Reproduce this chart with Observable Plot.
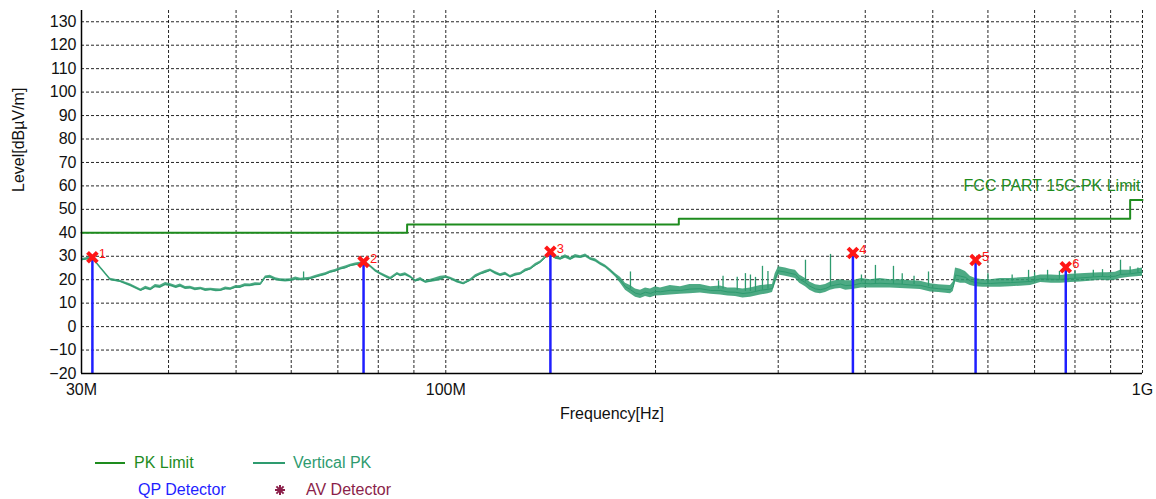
<!DOCTYPE html>
<html>
<head>
<meta charset="utf-8">
<script src="https://cdn.jsdelivr.net/npm/d3@7"></script>
<script src="https://cdn.jsdelivr.net/npm/@observablehq/plot@0.6"></script>
<style>
  html, body { margin: 0; padding: 0; background: #fff; }
  #wrap { position: relative; width: 1156px; height: 499px; font-family: "Liberation Sans", Arial, sans-serif; }
  #legend { position: relative; width: 1156px; height: 59px; font-size: 16px; }
  #legend .item { position: absolute; white-space: nowrap; line-height: 16px; }
  #legend .sw { position: absolute; height: 2px; }
</style>
</head>
<body>
<div id="wrap">
  <div id="chart"></div>
  <div id="legend"></div>
</div>
<script>
// ---- data (frequency in MHz, level in dBµV/m) ----
const traceFreq = [30.0, 31.1, 31.9, 33.0, 34.1, 35.3, 36.5, 37.1, 37.7, 38.3, 38.9, 39.6, 40.3, 41.0, 41.6, 42.3, 43.0, 43.7, 44.5, 45.2, 46.0, 46.8, 47.5, 48.3, 49.1, 49.9, 50.7, 51.5, 52.4, 53.3, 54.2, 55.1, 56.0, 57.0, 57.9, 58.9, 59.9, 60.9, 61.9, 63.9, 65.0, 66.1, 67.2, 68.3, 69.4, 70.6, 71.8, 73.0, 74.2, 75.4, 76.2, 77.1, 78.0, 79.3, 80.6, 82.0, 83.3, 85.2, 86.1, 87.5, 89.0, 90.5, 92.0, 93.5, 96.0, 98.3, 99.9, 101.6, 103.8, 106.0, 108.5, 110.3, 112.2, 114.0, 115.9, 117.8, 119.8, 121.8, 123.8, 125.9, 128.0, 130.1, 132.3, 134.5, 136.7, 139.9, 141.3, 143.7, 146.1, 148.5, 151.0, 153.5, 156.1, 158.7, 161.3, 164.0, 166.7, 169.5, 172.3, 175.2, 178.1, 181.1, 184.1, 187.2, 190.3, 193.5, 196.7, 200.0, 203.3, 210.0, 217.2, 224.0, 232.0, 240.0, 247.9, 254.0, 260.5, 267.0, 273.7, 283.0, 290.0, 294.4, 297.0, 300.3, 307.3, 312.0, 317.6, 322.0, 328.3, 333.0, 339.4, 345.0, 350.8, 356.6, 362.5, 368.6, 375.0, 383.5, 395.0, 406.9, 420.0, 434.8, 449.3, 465.0, 480.1, 496.3, 510.0, 530.2, 535.0, 539.1, 548.0, 557.1, 566.0, 575.9, 590.0, 605.2, 625.0, 646.4, 668.0, 690.8, 714.1, 740.0, 762.9, 790.0, 814.9, 840.0, 870.4, 890.0, 914.6, 929.9, 960.0, 1000];
const traceLow = [28.0, 28.8, 24.8, 19.6, 18.8, 17.0, 15.0, 15.8, 15.3, 16.6, 16.3, 17.4, 17.0, 16.2, 16.8, 15.8, 16.0, 15.3, 15.7, 15.0, 15.3, 14.9, 15.0, 15.6, 15.5, 16.2, 16.3, 17.0, 17.0, 17.4, 17.5, 20.5, 20.6, 19.6, 19.2, 19.0, 19.2, 19.8, 19.5, 20.0, 20.6, 21.3, 21.8, 22.7, 23.2, 24.1, 24.6, 25.5, 25.9, 26.3, 26.9, 26.1, 25.1, 23.2, 22.0, 20.8, 19.9, 22.0, 21.3, 21.7, 20.6, 19.0, 19.6, 18.5, 19.0, 19.5, 20.6, 20.0, 18.6, 17.8, 19.3, 20.8, 22.0, 22.6, 23.5, 22.2, 21.4, 21.9, 20.7, 21.5, 22.0, 23.3, 24.1, 25.6, 26.9, 29.7, 30.5, 28.7, 28.3, 29.2, 28.2, 29.3, 29.0, 29.6, 28.3, 27.6, 26.2, 25.0, 23.2, 21.2, 18.5, 15.5, 14.0, 12.5, 12.0, 12.8, 12.3, 13.0, 13.2, 13.5, 13.8, 14.0, 14.3, 13.8, 13.5, 13.0, 12.8, 12.2, 12.5, 13.5, 14.0, 14.5, 18.0, 22.0, 21.5, 21.0, 20.5, 18.5, 17.0, 15.5, 14.3, 14.0, 14.5, 15.5, 16.0, 16.3, 15.5, 15.8, 16.5, 16.5, 16.5, 16.5, 16.3, 16.0, 15.8, 14.8, 14.5, 14.0, 15.0, 19.0, 18.5, 18.5, 17.5, 17.0, 16.8, 16.8, 16.8, 17.0, 17.2, 17.5, 18.8, 18.5, 18.5, 18.8, 19.0, 19.3, 19.8, 19.5, 19.8, 20.5, 21.0, 21.5];
const traceHigh = [29.0, 29.8, 25.8, 20.6, 19.8, 18.2, 16.0, 17.2, 16.5, 18.0, 17.6, 18.8, 18.3, 17.5, 18.2, 17.1, 17.2, 16.6, 16.8, 16.3, 16.4, 16.1, 16.0, 16.9, 16.6, 17.4, 17.5, 18.3, 18.2, 18.7, 18.6, 21.6, 21.9, 20.8, 20.4, 20.3, 20.4, 21.1, 20.6, 21.0, 21.8, 22.4, 23.0, 23.8, 24.4, 25.2, 25.8, 26.6, 27.1, 27.4, 28.0, 27.3, 26.2, 24.4, 23.1, 22.0, 21.0, 23.1, 22.4, 23.0, 21.7, 20.0, 20.9, 19.5, 20.5, 21.5, 21.7, 21.0, 19.9, 18.8, 20.3, 22.1, 23.1, 23.9, 24.6, 23.5, 22.5, 23.2, 21.8, 22.8, 23.1, 24.6, 25.2, 26.9, 28.0, 30.8, 31.6, 30.0, 29.5, 30.6, 29.5, 30.7, 30.2, 31.0, 29.5, 28.9, 27.4, 26.3, 24.6, 22.6, 21.0, 18.5, 17.5, 16.0, 15.5, 16.5, 16.0, 17.0, 16.5, 17.5, 17.0, 18.0, 18.0, 17.0, 17.3, 16.5, 16.5, 16.0, 16.5, 17.5, 17.8, 18.0, 22.5, 25.5, 25.0, 24.5, 24.0, 22.0, 20.5, 19.0, 17.8, 17.5, 18.0, 19.0, 19.5, 20.0, 19.5, 19.5, 20.5, 20.0, 20.5, 20.0, 20.0, 19.5, 19.3, 18.3, 17.8, 17.5, 19.0, 25.0, 24.5, 23.5, 21.5, 20.5, 20.0, 20.0, 20.5, 20.5, 20.8, 21.0, 22.0, 22.0, 21.8, 22.3, 22.5, 22.8, 23.0, 23.0, 23.2, 24.0, 24.0, 25.0];

const spikeFreq = [62.5, 184.1, 246.3, 250.0, 262.0, 269.2, 273.7, 278.3, 284.8, 290.0, 328.3, 356.6, 395.0, 413.7, 439.1, 452.0, 470.0, 493.0, 600.0, 650.0, 686.2, 700.0, 730.7, 760.0, 800.0, 850.0, 876.2, 929.9, 960.0, 985.0];
const spikeBase = [20.5, 16.0, 16.0, 16.0, 15.5, 15.0, 15.0, 15.0, 15.5, 16.0, 19.0, 17.0, 19.0, 18.0, 18.0, 18.0, 18.0, 17.0, 18.5, 19.0, 19.0, 19.5, 20.0, 20.0, 20.5, 21.0, 21.0, 22.0, 22.5, 23.0];
const spikeTop  = [23.3, 23.3, 19.5, 21.5, 21.0, 22.6, 22.0, 21.0, 25.7, 23.5, 28.3, 30.8, 22.0, 26.1, 25.7, 22.5, 21.5, 23.3, 22.5, 22.0, 24.0, 23.0, 24.0, 23.5, 23.5, 24.0, 24.3, 28.3, 25.5, 25.0];

const limitFreq  = [30, 88, 216, 960, 1000];
const limitLevel = [40, 43.5, 46, 54, 54];
const limitName = "FCC PART 15C-PK Limit";

const qpFreq  = [31.1, 76.2, 141.3, 384, 576, 776];
const qpLevel = [29.6, 27.6, 31.9, 31.4, 28.4, 25.3];
const qpLabel = ["1", "2", "3", "4", "5", "6"];

const yTicks = [-20, -10, 0, 10, 20, 30, 40, 50, 60, 70, 80, 90, 100, 110, 120, 130];
const xGrid = [30, 40, 50, 60, 70, 80, 90, 100, 200, 300, 400, 500, 600, 700, 800, 900, 1000];
const xTickVals = [30, 100, 1000];
const xTickText = ["30M", "100M", "1G"];

const xTitle = "Frequency[Hz]";
const yTitle = "Level[dBµV/m]";
const legendNames = ["PK Limit", "Vertical PK", "QP Detector", "AV Detector"];

// ---- tables built from arrays ----
const trace = traceFreq.map((f, i) => ({f, lo: traceLow[i], hi: traceHigh[i], mid: (traceLow[i] + traceHigh[i]) / 2}));
const spikes = spikeFreq.map((f, i) => ({f, base: spikeBase[i], top: spikeTop[i]}));
const limit = limitFreq.map((f, i) => ({f, v: limitLevel[i]}));
const qp = qpFreq.map((f, i) => ({f, v: qpLevel[i], label: qpLabel[i]}));

const limitColor = "#1e8c1e";
const traceColor = "#2e9b6f";
const qpColor = "#1f1fff";
const markColor = "#ff1616";
const avColor = "#8b1f4a";
const font = "Liberation Sans, Arial, sans-serif";

const chart = Plot.plot({
  width: 1156,
  height: 440,
  marginLeft: 81,
  marginRight: 14,
  marginTop: 10,
  marginBottom: 67,
  style: {fontFamily: font, fontSize: "16px", color: "#111", background: "#fff"},
  x: {type: "log", domain: [30, 1000]},
  y: {domain: [-20, 134.8]},
  marks: [
    Plot.gridY(yTicks, {stroke: "#000", strokeOpacity: 0.85, strokeDasharray: "3,2", strokeWidth: 1}),
    Plot.gridX(xGrid, {stroke: "#000", strokeOpacity: 0.85, strokeDasharray: "3,2", strokeWidth: 1}),
    Plot.axisY(yTicks, {tickSize: 0, tickPadding: 5, label: null, fontSize: 16}),
    Plot.axisX(xTickVals, {tickSize: 0, tickPadding: 10, label: null, fontSize: 16,
      tickFormat: d => xTickText[xTickVals.indexOf(d)]}),
    Plot.text([yTitle], {frameAnchor: "left", rotate: -90, dx: -63, text: d => d, fontSize: 16, fill: "#111"}),
    Plot.text([xTitle], {frameAnchor: "bottom", dy: 45, text: d => d, fontSize: 16, fill: "#111"}),
    Plot.line(limit, {x: "f", y: "v", curve: "step-after", stroke: limitColor, strokeWidth: 2}),
    Plot.text([limitName], {x: 1000, y: 60, text: d => d, textAnchor: "end", dx: -2, fill: limitColor, fontSize: 16}),
    Plot.ruleX(spikes, {x: "f", y1: "base", y2: "top", stroke: traceColor, strokeWidth: 1.3}),
    Plot.areaY(trace, {x: "f", y1: "lo", y2: "hi", fill: traceColor, fillOpacity: 0.85}),
    Plot.line(trace, {x: "f", y: "mid", stroke: traceColor, strokeWidth: 1}),
    Plot.ruleX(qp, {x: "f", y1: -20, y2: "v", stroke: qpColor, strokeWidth: 2.5}),
    Plot.dot(qp, {x: "f", y: "v", symbol: "times", r: 4.5, stroke: markColor, strokeWidth: 4}),
    Plot.text(qp, {x: "f", y: "v", text: "label", dx: 10, dy: -3, fill: markColor, fontSize: 13}),
    Plot.ruleX([30], {stroke: "#000", strokeWidth: 1.5}),
    Plot.ruleY([-20], {stroke: "#000", strokeWidth: 1.5})
  ]
});
document.getElementById("chart").appendChild(chart);

// ---- legend ----
const lg = document.getElementById("legend");
lg.innerHTML = `
  <div class="sw" style="left:95px; top:22px; width:30px; background:${limitColor}"></div>
  <div class="item" style="left:134px; top:15px; color:${limitColor}">${legendNames[0]}</div>
  <div class="sw" style="left:253px; top:22px; width:32px; background:${traceColor}"></div>
  <div class="item" style="left:293px; top:15px; color:${traceColor}">${legendNames[1]}</div>
  <div class="item" style="left:138px; top:42px; color:${qpColor}">${legendNames[2]}</div>
  <svg style="position:absolute; left:274px; top:44px" width="12" height="12" viewBox="-6 -6 12 12">
    <g stroke="${avColor}" stroke-width="2">
      <line x1="-5" y1="0" x2="5" y2="0"/><line x1="0" y1="-5" x2="0" y2="5"/>
      <line x1="-3.6" y1="-3.6" x2="3.6" y2="3.6"/><line x1="-3.6" y1="3.6" x2="3.6" y2="-3.6"/>
    </g>
  </svg>
  <div class="item" style="left:306px; top:42px; color:${avColor}">${legendNames[3]}</div>
`;
</script>
</body>
</html>
